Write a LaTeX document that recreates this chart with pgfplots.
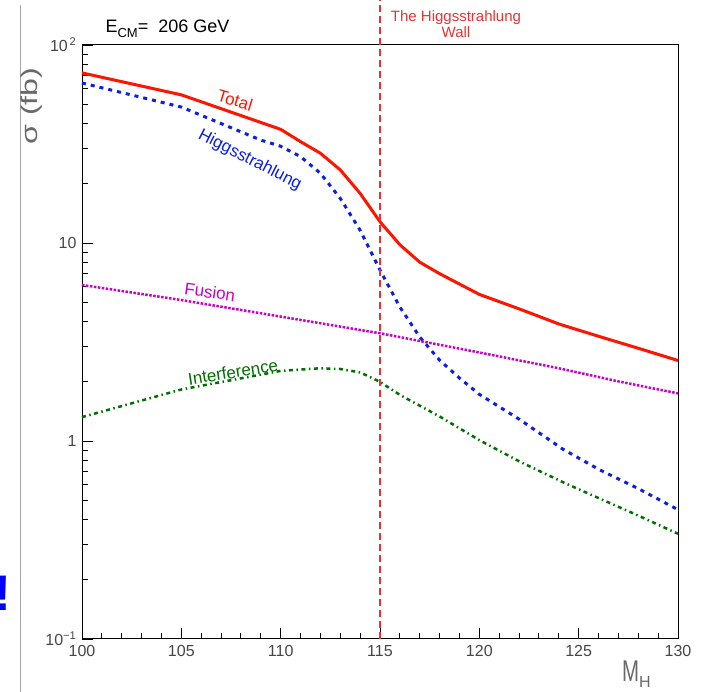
\documentclass[border=0pt]{standalone}
\usepackage{fontspec}
\setmainfont{Liberation Sans}
\usepackage{pgfplots}
\pgfplotsset{compat=1.18}
\definecolor{ctot}{RGB}{255,20,0}
\definecolor{chig}{RGB}{10,30,230}
\definecolor{cfus}{RGB}{200,0,200}
\definecolor{cint}{RGB}{0,110,0}
\definecolor{cwall}{RGB}{232,50,50}
\definecolor{ctick}{RGB}{70,70,70}
\definecolor{clab}{RGB}{105,105,105}
\begin{document}
\begin{tikzpicture}[x=1pt,y=1pt]
\useasboundingbox (0,0) rectangle (702,692);
\draw[black!35, line width=1pt] (20,0) -- (20,687);
\node[text=blue, font=\fontsize{50}{50}\selectfont\bfseries, anchor=center] at (3,99) {!};
\node[anchor=base west, font=\fontsize{18}{20}\selectfont] at (102,659) {E\raisebox{-0.45ex}{\fontsize{13}{13}\selectfont CM}=\ \ 206 GeV};
\node[text=cwall, align=center, font=\fontsize{15}{16}\selectfont, anchor=center] at (456,668) {The Higgsstrahlung\\Wall};
\node[text=clab, rotate=90, font=\fontsize{23}{26}\selectfont, anchor=center] at (32,586) {\scalebox{1.4}[1]{σ (fb)}};
\node[text=clab, anchor=base west, font=\fontsize{30}{30}\selectfont, inner sep=0pt] at (622,10) {\scalebox{0.68}[1]{M}\raisebox{-0.35ex}{\fontsize{16}{16}\selectfont H}};
\begin{axis}[
  at={(82pt,53pt)}, anchor=south west,
  width=596pt, height=594pt, scale only axis,
  xmin=100, xmax=130, ymin=0.1, ymax=100,
  ymode=log, clip=false,
  axis line style={line width=1pt, black},
  tick style={black, line width=0.9pt},
  tick align=inside,
  xtick pos=left, ytick pos=left,
  major tick length=11pt, minor tick length=6pt,
  xtick={100,105,...,130},
  xticklabels={100,105,110,115,120,125,130},
  minor xtick={101,102,103,104,106,107,108,109,111,112,113,114,116,117,118,119,121,122,123,124,126,127,128,129},
  ytick={0.1,1,10,100},
  yticklabels={10\textsuperscript{−1},1,10,10\textsuperscript{\,2}},
  minor ytick={0.2,0.3,0.4,0.5,0.6,0.7,0.8,0.9,2,3,4,5,6,7,8,9,20,30,40,50,60,70,80,90},
  ticklabel style={font=\fontsize{16}{18}\selectfont, text=ctick},
  xticklabel style={yshift=-3pt},
  yticklabel style={xshift=-2pt},
]
\addplot[ctot, line width=3pt] coordinates {
(100,72.3) (105,56) (110,37.5) (111,32.5) (112,28.4) (113,23.4) (114,17.8) (115,12.8) (116,9.8) (117,8.0) (118,7.0) (120,5.5) (122,4.65) (124,3.9) (126,3.38) (128,2.94) (130,2.55)};
\addplot[chig, line width=3pt, dash pattern=on 4pt off 5pt] coordinates {
(100,64.3) (105,48.6) (109,33.1) (110,30.8) (111,27.3) (112,22.5) (113,16.8) (114,11.6) (115,7.3) (116,4.75) (117,3.35) (118,2.56) (119,2.08) (120,1.72) (122,1.29) (124.2,0.91) (126,0.72) (128,0.575) (130,0.45)};
\addplot[cfus, line width=2.5pt, dash pattern=on 2.5pt off 1.5pt] coordinates {
(100,6.14) (105,5.15) (110,4.25) (115,3.5) (120,2.8) (124,2.33) (127,2.0) (130,1.74)};
\addplot[cint, line width=2.5pt, dash pattern=on 4pt off 3.5pt on 1.5pt off 3.5pt] coordinates {
(100,1.32) (105,1.82) (110,2.26) (112,2.33) (113,2.31) (114,2.22) (115,1.99) (116,1.71) (118,1.33) (120,1.01) (122,0.79) (124.2,0.62) (126,0.515) (128,0.42) (130,0.34)};
\draw[cwall, line width=1.3pt, dash pattern=on 7pt off 4pt] (axis cs:115,0.1) -- ([yshift=45pt]axis cs:115,100);
\node[text=ctot, rotate=-17, font=\fontsize{17}{20}\selectfont] at (axis cs:107.7,52.7) {Total};
\node[text=chig, rotate=-27, font=\fontsize{17}{20}\selectfont] at (axis cs:108.45,26.2) {Higgsstrahlung};
\node[text=cfus, rotate=-8, font=\fontsize{17}{20}\selectfont] at (axis cs:106.44,5.66) {Fusion};
\node[text=cint, rotate=9, font=\fontsize{17}{20}\selectfont] at (axis cs:107.6,2.23) {Interference};
\end{axis}
\end{tikzpicture}
\end{document}
